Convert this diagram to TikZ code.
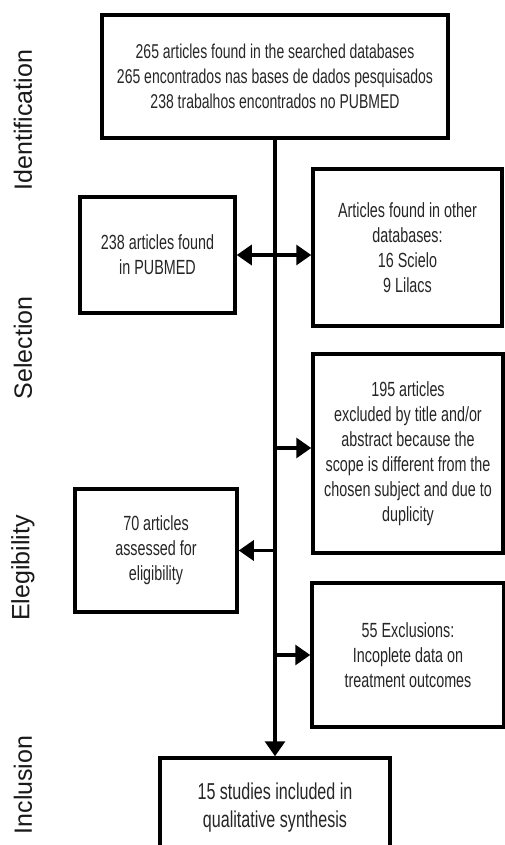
\documentclass[tikz,border=0pt]{standalone}
\usepackage{fontspec}
\setmainfont{Liberation Sans}
\newfontfamily\narrowfont[FakeStretch=0.7]{Liberation Sans}
\usetikzlibrary{arrows.meta}

\begin{document}
\begin{tikzpicture}[x=1pt,y=-1pt,>={Triangle[length=15pt,width=20pt]},
  box/.style={draw,line width=3.5pt,inner sep=0pt,align=center,text=black!85,
    font=\narrowfont\fontsize{20.5}{25}\selectfont},
  phase/.style={rotate=90,text=black!90,font=\fontsize{25}{30}\selectfont},
  flow/.style={line width=3.2pt,->}]
\useasboundingbox (0,0) rectangle (505,845);
\clip (0,0) rectangle (505,845);
\fill[white] (0,0) rectangle (505,845);

\node[phase] (ident) at (23,120) {Identification};
\node[phase] (select) at (23,348) {Selection};
\node[phase] (elegib) at (23,568) {Elegibility};
\node[phase] (inclus) at (23,785) {Inclusion};

\node[box,minimum width=346pt,minimum height=123pt,font=\narrowfont\fontsize{20}{25}\selectfont] (found) at (275,76.5) {265 articles found in the searched databases\\265 encontrados nas bases de dados pesquisados\\238 trabalhos encontrados no PUBMED};
\node[box,minimum width=155pt,minimum height=116pt] (pubmed) at (157.5,255) {238 articles found\\in PUBMED};
\node[box,minimum width=189pt,minimum height=157pt] (other) at (407.5,247.5) {Articles found in other\\databases:\\16 Scielo\\9 Lilacs};
\node[box,minimum width=190pt,minimum height=199pt] (title) at (408,453.5) {195 articles\\excluded by title and/or\\abstract because the\\scope is different from the\\chosen subject and due to\\duplicity};
\node[box,minimum width=162pt,minimum height=123pt] (elig) at (156,550.5) {70 articles\\assessed for\\eligibility};
\node[box,minimum width=192pt,minimum height=144pt] (excl) at (408,655) {55 Exclusions:\\Incoplete data on\\treatment outcomes};
\node[box,minimum width=230pt,minimum height=100pt,font=\narrowfont\fontsize{23}{28}\selectfont] (incl) at (275,808) {15 studies included in\\qualitative synthesis};

\coordinate (totitle) at (275,448);

\draw[flow] (found.south) -- (incl.north);
\draw[line width=3.2pt,<->] (pubmed.east) -- (other.west |- pubmed.east);
\draw[flow] (totitle) -- (totitle -| title.west);
\draw[flow] (found.south |- elig.east) -- (elig.east);
\draw[flow] (found.south |- excl.west) -- (excl.west);
\end{tikzpicture}
\end{document}
